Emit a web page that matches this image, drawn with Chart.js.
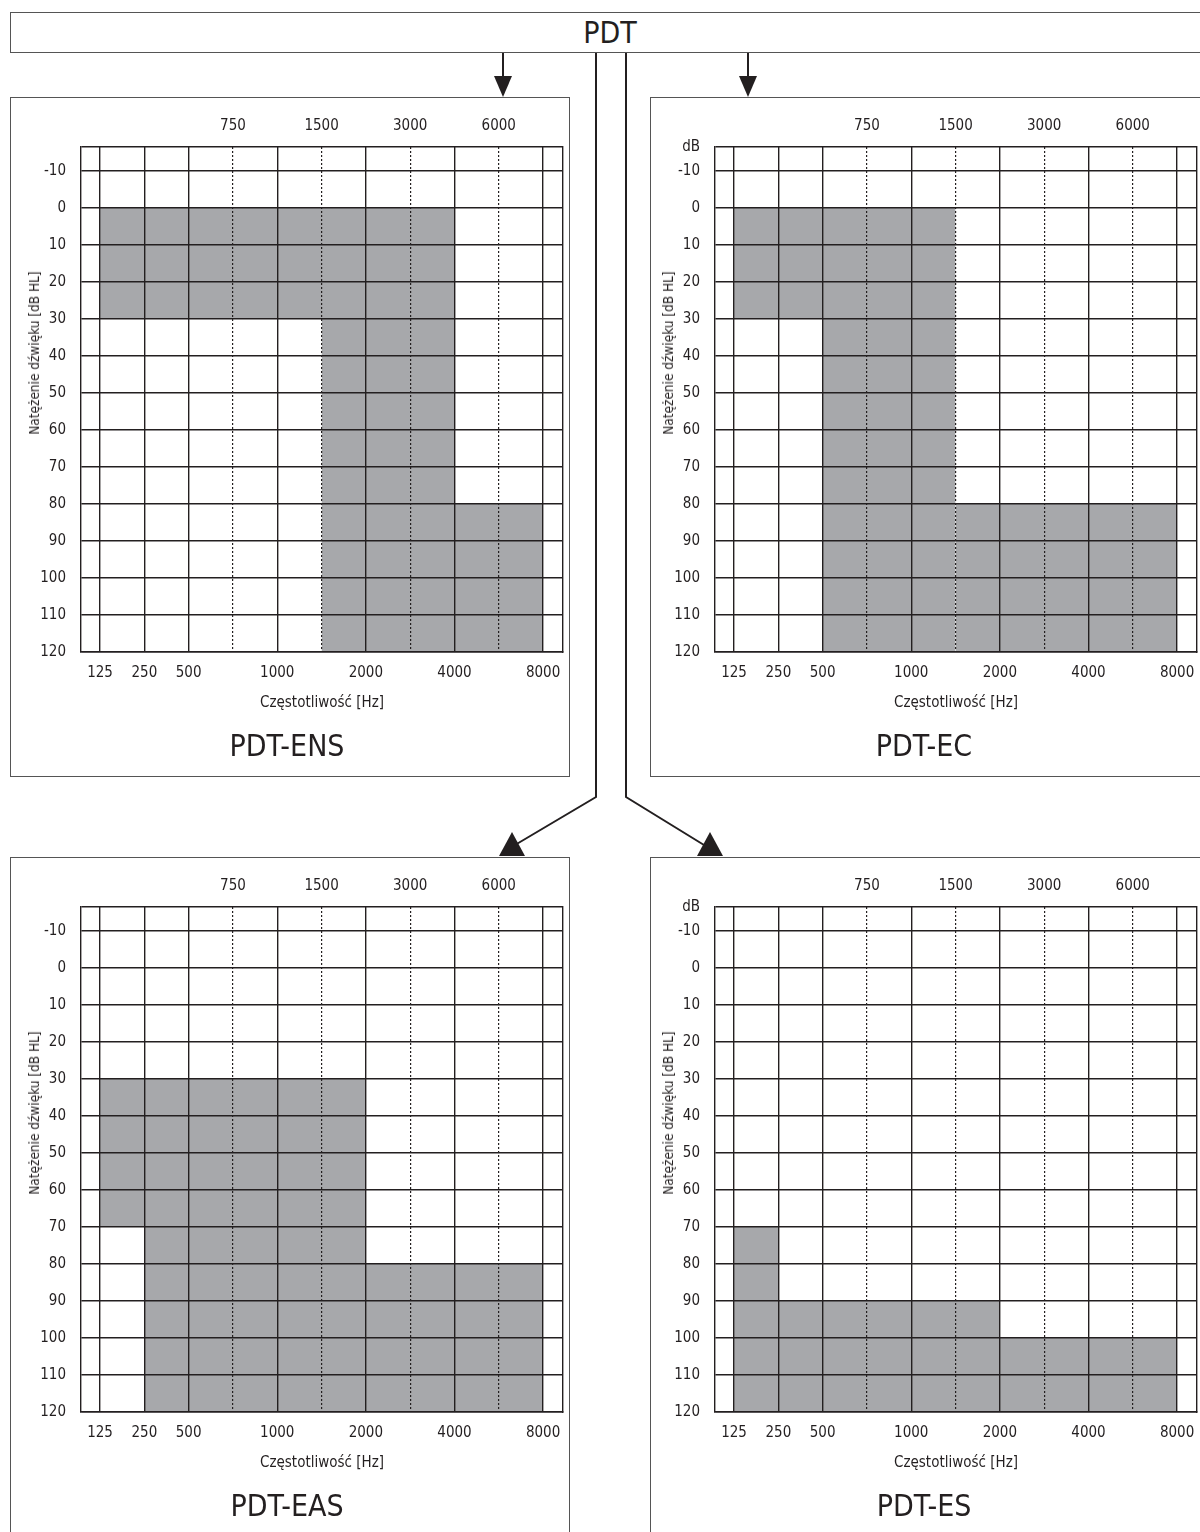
<!DOCTYPE html>
<html>
<head>
<meta charset="utf-8">
<script src="https://cdn.jsdelivr.net/npm/chart.js@4.4.1/dist/chart.umd.min.js"></script>
<style>
  body { margin: 0; background: #fff; }
  #page { position: relative; width: 1200px; height: 1532px; overflow: hidden; font-family: 'Liberation Sans Narrow', 'DejaVu Sans Condensed', sans-serif; color: #231f20; }
  .panel { position: absolute; width: 560px; height: 680px; border: 1px solid #555; box-sizing: border-box; background: #fff; }
  .panel canvas { position: absolute; left: 0; top: 0; }
  .ytitle { position: absolute; font-size: 13.5px; white-space: nowrap; transform: translate(-50%, -50%) rotate(-90deg); }
  svg { position: absolute; left: 0; top: 0; }
</style>
</head>
<body>
<div id="page">
  <svg width="1200" height="1532">
    <rect x="10.5" y="12.5" width="1200" height="40" fill="#fff" stroke="#555" stroke-width="1"/>
    <text x="610" y="43" text-anchor="middle" font-size="30" fill="#231f20" font-family="'Liberation Sans Narrow', 'DejaVu Sans Condensed', sans-serif">PDT</text>
    <g stroke="#231f20" stroke-width="2" fill="none">
      <line x1="503" y1="53" x2="503" y2="80"/>
      <line x1="748" y1="53" x2="748" y2="80"/>
      <polyline points="596,53 596,797 515,845"/>
      <polyline points="626,53 626,797 704,845"/>
    </g>
    <g fill="#231f20">
      <polygon points="494,76 512,76 503,97"/>
      <polygon points="739,76 757,76 748,97"/>
      <polygon points="499,856 525,856 512,832"/>
      <polygon points="697,856 723,856 710,832"/>
    </g>
  </svg>
</div>
<script>
// frequency positions on the audiogram (equal spacing per position)
const freqTicks = [125, 250, 500, 750, 1000, 1500, 2000, 3000, 4000, 6000, 8000];
const octaveFreqs = [125, 250, 500, 1000, 2000, 4000, 8000];
const midFreqs = [750, 1500, 3000, 6000];
const dbTicks = [-10, 0, 10, 20, 30, 40, 50, 60, 70, 80, 90, 100, 110, 120];

// shaded areas: [freq from, freq to, dB from, dB to]
const ensAreas = [[125, 4000, 0, 30], [1500, 4000, 30, 120], [4000, 8000, 80, 120]];
const ecAreas = [[125, 1500, 0, 30], [500, 1500, 30, 120], [1500, 8000, 80, 120]];
const easAreas = [[125, 250, 30, 70], [250, 2000, 30, 120], [2000, 8000, 80, 120]];
const esAreas = [[125, 250, 70, 120], [250, 2000, 90, 120], [2000, 8000, 100, 120]];

const panelNames = ['PDT-ENS', 'PDT-EC', 'PDT-EAS', 'PDT-ES'];

const X_MIN = -0.43, X_MAX = 10.45;
const Y_MIN = -16.5, Y_MAX = 120;
const LINE = '#231f20';
const SHADE = '#a7a8ab';
const FAMILY = "'Liberation Sans Narrow', 'DejaVu Sans Condensed', sans-serif";

const idx = f => freqTicks.indexOf(f);

function areaDatasets(areas) {
    return areas.flatMap(([f1, f2, d1, d2]) => [
        {
            data: [{x: idx(f1), y: d1}, {x: idx(f2), y: d1}],
            fill: '+1',
            backgroundColor: SHADE,
            borderColor: 'transparent',
            borderWidth: 0,
            pointRadius: 0
        },
        {
            data: [{x: idx(f1), y: d2}, {x: idx(f2), y: d2}],
            fill: false,
            borderColor: 'transparent',
            borderWidth: 0,
            pointRadius: 0
        }
    ]);
}

// keep the x axes from asking for extra side padding
function fitX(height) {
    return s => {
        s.height = height;
        s.paddingLeft = 0;
        s.paddingRight = 0;
    };
}

function makePanel(cfg) {
    const page = document.getElementById('page');
    const box = document.createElement('div');
    box.className = 'panel';
    box.style.left = cfg.left + 'px';
    box.style.top = cfg.top + 'px';
    const canvas = document.createElement('canvas');
    canvas.width = 558;
    canvas.height = 678;
    box.appendChild(canvas);
    const yt = document.createElement('div');
    yt.className = 'ytitle';
    yt.textContent = 'Natężenie dźwięku [dB HL]';
    yt.style.left = (23 - cfg.shift) + 'px';
    yt.style.top = '255px';
    box.appendChild(yt);
    page.appendChild(box);

    const tickFont = {family: FAMILY, size: 15};
    const grid = {color: LINE, lineWidth: 1.4, drawTicks: false, z: 1};

    new Chart(canvas.getContext('2d'), {
        type: 'line',
        data: {datasets: areaDatasets(cfg.areas)},
        options: {
            responsive: false,
            animation: false,
            layout: {padding: {left: 0, right: cfg.padRight, top: 0, bottom: 0}},
            plugins: {
                legend: {display: false},
                tooltip: {enabled: false},
                title: {
                    display: true,
                    text: cfg.name,
                    position: 'bottom',
                    color: LINE,
                    font: {family: FAMILY, size: 30, weight: 'normal'},
                    padding: {top: 18, bottom: 10}
                }
            },
            scales: {
                x: {
                    type: 'linear', position: 'bottom', min: X_MIN, max: X_MAX, bounds: 'data',
                    afterBuildTicks: s => { s.ticks = octaveFreqs.map(f => ({value: idx(f)})); },
                    afterFit: fitX(60),
                    ticks: {callback: v => freqTicks[v], padding: 12, font: tickFont, color: LINE, autoSkip: false, maxRotation: 0},
                    grid: grid,
                    border: {display: true, color: LINE, width: 1.4, z: 1},
                    title: {display: true, text: 'Częstotliwość [Hz]', color: LINE, font: {family: FAMILY, size: 15}, padding: {top: 0, bottom: 0}}
                },
                x2: {
                    type: 'linear', position: 'top', min: X_MIN, max: X_MAX, bounds: 'data',
                    afterBuildTicks: s => { s.ticks = midFreqs.map(f => ({value: idx(f)})); },
                    afterFit: fitX(49),
                    ticks: {callback: v => freqTicks[v], padding: 12, font: tickFont, color: LINE, autoSkip: false, maxRotation: 0},
                    grid: {color: LINE, lineWidth: 1.2, drawTicks: false, z: 1},
                    border: {display: false, dash: [2, 2]}
                },
                y: {
                    type: 'linear', position: 'left', reverse: true, min: Y_MIN, max: Y_MAX, bounds: 'data',
                    afterBuildTicks: s => { s.ticks = [Y_MIN, ...dbTicks].map(v => ({value: v})); },
                    afterFit: s => { s.width = 70 - cfg.shift; },
                    ticks: {callback: v => v === Y_MIN ? cfg.topLabel : v, padding: 15, font: tickFont, color: LINE, autoSkip: false},
                    grid: grid,
                    border: {display: true, color: LINE, width: 1.4, z: 1}
                },
                y2: {
                    type: 'linear', position: 'right', reverse: true, min: Y_MIN, max: Y_MAX, bounds: 'data',
                    afterFit: s => { s.width = 0; },
                    ticks: {display: false},
                    grid: {display: false},
                    border: {display: true, color: LINE, width: 1.4, z: 1}
                }
            }
        }
    });
}

makePanel({name: panelNames[0], areas: ensAreas, left: 10, top: 97, shift: 0, padRight: 6, topLabel: ''});
makePanel({name: panelNames[1], areas: ecAreas, left: 650, top: 97, shift: 6, padRight: 12, topLabel: 'dB'});
makePanel({name: panelNames[2], areas: easAreas, left: 10, top: 857, shift: 0, padRight: 6, topLabel: ''});
makePanel({name: panelNames[3], areas: esAreas, left: 650, top: 857, shift: 6, padRight: 12, topLabel: 'dB'});
</script>
</body>
</html>
